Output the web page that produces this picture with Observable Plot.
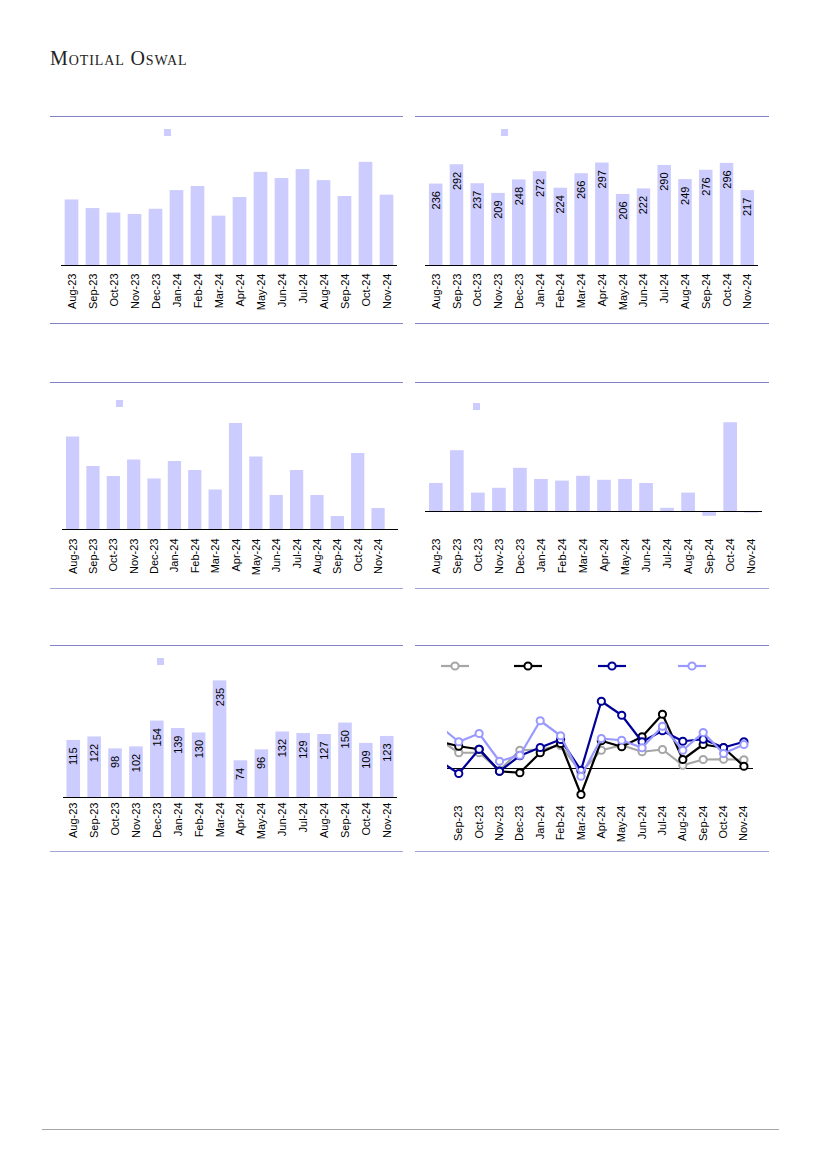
<!DOCTYPE html>
<html><head><meta charset="utf-8">
<script src="https://cdn.jsdelivr.net/npm/d3@7"></script>
<script src="https://cdn.jsdelivr.net/npm/@observablehq/plot@0.6"></script>
<style>
body{margin:0;background:#fff}
#page{position:relative;width:827px;height:1169px;overflow:hidden;font-family:"Liberation Sans",Arial,sans-serif}
.abs{position:absolute}
.hr{position:absolute;height:0;border-top:1.5px solid #8282c8}
</style></head>
<body><div id="page"></div>
<script>
const months = ["Aug-23","Sep-23","Oct-23","Nov-23","Dec-23","Jan-24","Feb-24","Mar-24","Apr-24","May-24","Jun-24","Jul-24","Aug-24","Sep-24","Oct-24","Nov-24"];
const panel1Values = [190,165,152,148,163,217,229,143,197,270,252,278,246,200,299,204];
const panel2Values = [236,292,237,209,248,272,224,266,297,206,222,290,249,276,296,217];
const panel3Values = [18.5,12.6,10.6,13.9,10.1,13.6,11.8,7.9,21.2,14.5,6.8,11.8,6.8,2.6,15.2,4.2];
const panel4Values = [3.5,7.6,2.3,2.9,5.4,4.0,3.8,4.4,3.9,4.0,3.5,0.4,2.3,-0.6,11.1,-0.2];
const panel5Values = [115,122,98,102,154,139,130,235,74,96,132,129,127,150,109,123];
const seriesGray  = [11.8,6.3,6.3,-0.7,7.3,7.6,9.2,-1.5,7.3,9.3,6.7,7.6,1.3,3.6,3.7,3.5];
const seriesBlack = [10.9,8.9,7.7,-1.1,-1.7,6.3,10.0,-10.4,11.1,8.7,12.7,21.7,3.6,9.6,8.3,0.9];
const seriesNavy  = [3.3,-2.0,7.7,-1.1,5.1,8.4,11.6,-0.7,26.9,21.3,10.7,15.1,10.9,11.7,8.4,10.7];
const seriesLight = [17.4,10.7,14.0,2.9,5.3,19.1,13.1,-3.1,12.0,11.3,8.3,16.9,7.3,14.4,6.0,9.6];
const lineColors = {gray:"#a6a6a6", black:"#000000", navy:"#000099", light:"#9999ff"};
const barColor = "#ccccff";

const page = document.getElementById("page");
function place(el, left, top){ el.style.position="absolute"; el.style.left=left+"px"; el.style.top=top+"px"; page.appendChild(el); return el; }
function hr(left, top, width, color){ const d=document.createElement("div"); d.className="hr"; d.style.left=left+"px"; d.style.top=top+"px"; d.style.width=width+"px"; if(color) d.style.borderTopColor=color; page.appendChild(d); }
function square(left, top){ const d=document.createElement("div"); d.style.width="7px"; d.style.height="7px"; d.style.background=barColor; place(d,left,top); }

// header
const hdr = document.createElement("div");
hdr.textContent = "Motilal Oswal";
Object.assign(hdr.style,{fontFamily:'"Liberation Serif","DejaVu Serif",serif',fontSize:"20px",lineHeight:"20px",fontVariant:"small-caps",letterSpacing:"0.9px",color:"#222"});
place(hdr, 50, 47.5);

// panel rules
hr(50,116,353); hr(415,116,354); hr(50,323,353); hr(415,323,354);
hr(50,381.5,353); hr(415,381.5,354); hr(50,587.5,353,"#a3a3d6"); hr(415,587.5,354,"#a3a3d6");
hr(50,645,353); hr(415,645,354); hr(50,851,353,"#a3a3d6"); hr(415,851,354,"#a3a3d6");
// footer
hr(42,1128.5,737,"#a6a6a6");

const fontFam = '"Liberation Sans",Arial,sans-serif';
function barPanel({values, left, top, width, height, marginLeft, marginRight, marginBottom, domain, paddingOuter, align=0.5, tickPadding, labels=false}){
  const data = months.map((m,i)=>({m, v: values[i]}));
  const chart = Plot.plot({
    width, height, marginTop:0, marginLeft, marginRight, marginBottom,
    style:{fontFamily:fontFam, fontSize:"11px", color:"#000", background:"transparent", overflow:"visible"},
    x:{domain: months, round:false, paddingInner:0.35, paddingOuter, align, label:null, tickRotate:-90, tickSize:0, tickPadding},
    y:{domain, axis:null},
    marks:[
      Plot.barY(data,{x:"m", y:"v", fill:barColor}),
      Plot.ruleY([0],{stroke:"#000", strokeWidth:1.2}),
      labels ? Plot.text(data,{x:"m", y:"v", text:d=>String(d.v), rotate:-90, textAnchor:"end", dy:7, fill:"#000", fontSize:11}) : null
    ]
  });
  place(chart, left, top);
}

barPanel({values:panel1Values, left:50, top:127, width:353, height:190, marginLeft:11, marginRight:6, marginBottom:52, domain:[0,400], paddingOuter:0.175, tickPadding:8});
square(164,129);
barPanel({values:panel2Values, left:414, top:127, width:355, height:190, marginLeft:11, marginRight:11, marginBottom:52, domain:[0,400], paddingOuter:0.19, tickPadding:8, labels:true});
square(501,129);
barPanel({values:panel3Values, left:50, top:404, width:353, height:177, marginLeft:12, marginRight:5, marginBottom:52, domain:[0,25], paddingOuter:0.425, align:0.23, tickPadding:9});
square(116,399.5);
barPanel({values:panel4Values, left:414, top:399, width:355, height:182, marginLeft:11, marginRight:7, marginBottom:52, domain:[-2.25,14], paddingOuter:0.19, tickPadding:9});
square(473,402.5);
barPanel({values:panel5Values, left:50, top:663, width:353, height:182, marginLeft:13, marginRight:6, marginBottom:48, domain:[0,270], paddingOuter:0.165, tickPadding:5, labels:true});
square(156.5,657.5);

// line panel
const seriesList = [["gray",seriesGray],["black",seriesBlack],["navy",seriesNavy],["light",seriesLight]];
const lineMarks = [Plot.ruleY([0],{stroke:"#000", strokeWidth:1.2})];
for (const [name, vals] of seriesList){
  const d = vals.map((v,i)=>({i, v}));
  lineMarks.push(Plot.line(d,{x:"i", y:"v", stroke:lineColors[name], strokeWidth:2.2, clip:true}));
  lineMarks.push(Plot.dot(d,{x:"i", y:"v", r:3.6, stroke:lineColors[name], strokeWidth:2, fill:"#fff", clip:true}));
}
const lineChart = Plot.plot({
  width:355, height:155, marginTop:0, marginLeft:33, marginRight:16, marginBottom:45,
  style:{fontFamily:fontFam, fontSize:"11px", color:"#000", background:"transparent", overflow:"visible"},
  x:{type:"linear", domain:[0.447,15.47], ticks:d3.range(1,16), tickFormat:i=>months[i], tickRotate:-90, tickSize:0, tickPadding:2, label:null},
  y:{domain:[-14,30], axis:null},
  marks: lineMarks
});
place(lineChart, 414, 693.3);

// line legend
const legendPos = [["gray",440.7],["black",514.3],["navy",597.7],["light",678.3]];
for (const [name, x] of legendPos){
  const ns="http://www.w3.org/2000/svg";
  const s=document.createElementNS(ns,"svg"); s.setAttribute("width","30"); s.setAttribute("height","12");
  const l=document.createElementNS(ns,"line"); l.setAttribute("x1","0"); l.setAttribute("x2","28"); l.setAttribute("y1","6"); l.setAttribute("y2","6"); l.setAttribute("stroke",lineColors[name]); l.setAttribute("stroke-width","2.2");
  const c=document.createElementNS(ns,"circle"); c.setAttribute("cx","14"); c.setAttribute("cy","6"); c.setAttribute("r","3.6"); c.setAttribute("fill","#fff"); c.setAttribute("stroke",lineColors[name]); c.setAttribute("stroke-width","2");
  s.appendChild(l); s.appendChild(c);
  place(s, x, 660);
}
</script>
</body></html>
